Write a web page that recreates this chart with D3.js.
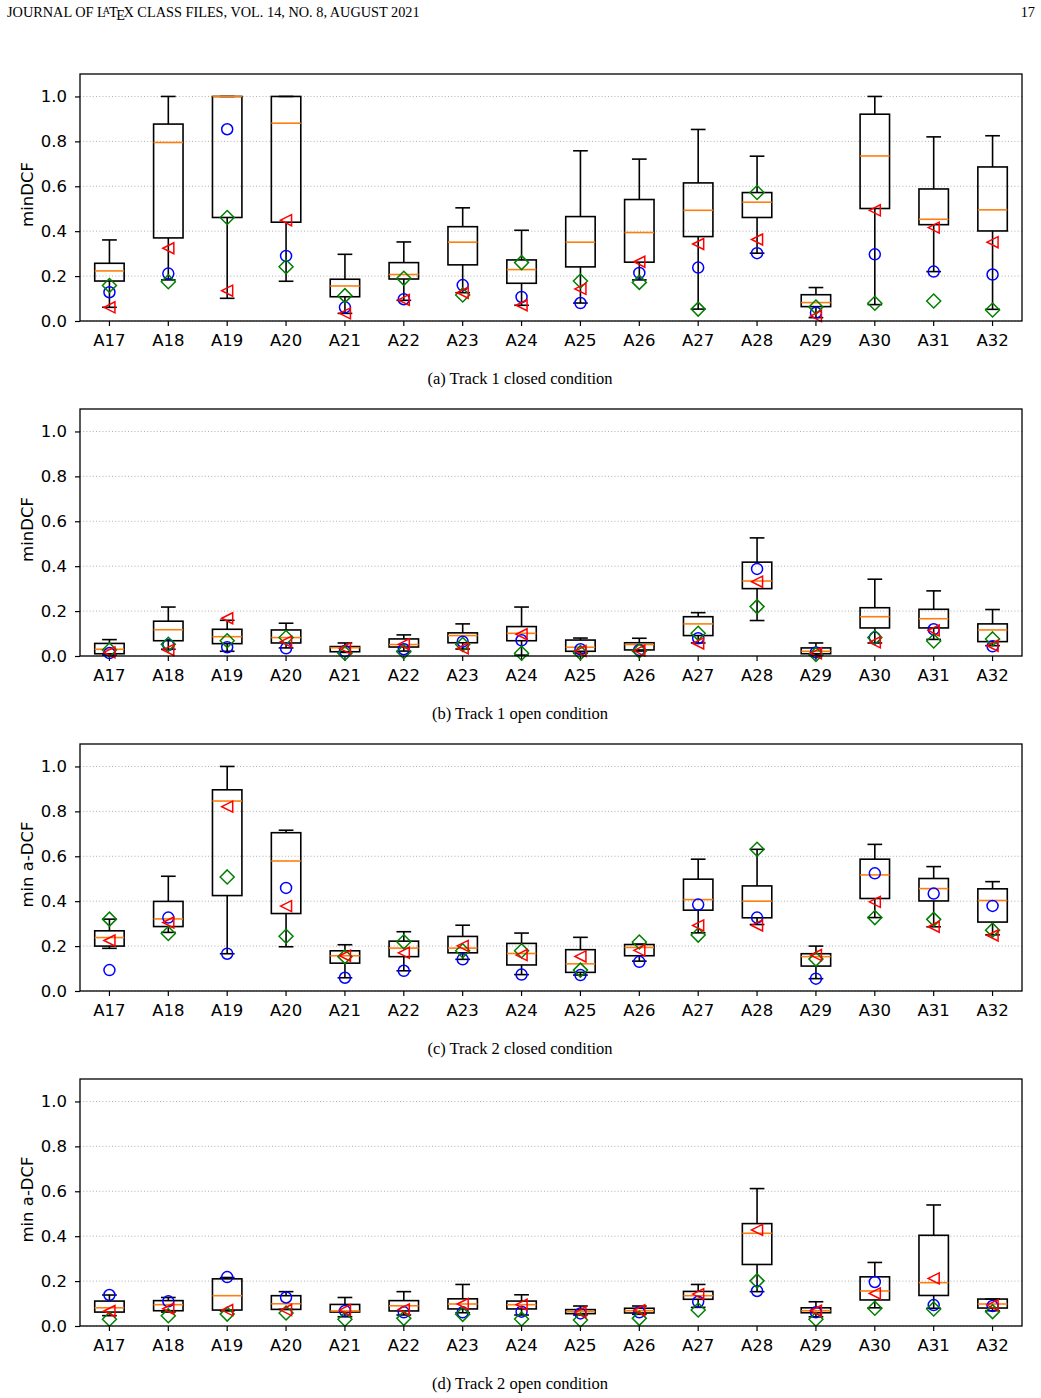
<!DOCTYPE html>
<html><head><meta charset="utf-8">
<script src="https://cdn.jsdelivr.net/npm/d3@7"></script>
<style>body{margin:0;background:#fff}svg{display:block}</style>
</head><body>
<svg id="chart" width="1041" height="1398"></svg>
<script>
const categories = ["A17","A18","A19","A20","A21","A22","A23","A24","A25","A26","A27","A28","A29","A30","A31","A32"];
const yTicks = [0.0,0.2,0.4,0.6,0.8,1.0];
const captions = ["(a) Track 1 closed condition","(b) Track 1 open condition","(c) Track 2 closed condition","(d) Track 2 open condition"];
const yLabels = ["minDCF","minDCF","min a-DCF","min a-DCF"];

// box stats per category: [whiskerLow, q1, median, q3, whiskerHigh]
const aBoxes = [[0.061,0.178,0.223,0.257,0.361],[0.183,0.370,0.795,0.877,1.0],[0.101,0.461,1.0,1.0,1.0],[0.177,0.440,0.881,1.0,1.0],
  [0.034,0.108,0.156,0.186,0.297],[0.092,0.187,0.207,0.260,0.352],[0.126,0.250,0.351,0.420,0.504],[0.070,0.168,0.229,0.272,0.404],
  [0.080,0.241,0.351,0.465,0.758],[0.183,0.262,0.394,0.541,0.721],[0.053,0.376,0.493,0.615,0.853],[0.302,0.461,0.529,0.572,0.734],
  [0.015,0.064,0.082,0.117,0.149],[0.073,0.501,0.735,0.921,1.0],[0.220,0.429,0.453,0.588,0.820],[0.052,0.401,0.495,0.686,0.825]];
const aCircle   = [0.128,0.211,0.854,0.290,0.061,0.097,0.160,0.107,0.080,0.214,0.238,0.302,0.037,0.297,0.220,0.207];
const aDiamond  = [0.158,0.175,0.461,0.242,0.113,0.190,0.116,0.260,0.178,0.172,0.053,0.572,0.062,0.079,0.089,0.049];
const aTriangle = [0.061,0.324,0.135,0.449,0.034,0.094,0.126,0.070,0.143,0.264,0.343,0.363,0.022,0.493,0.416,0.351];

const bBoxes = [[0.004,0.010,0.030,0.056,0.073],[0.030,0.068,0.117,0.155,0.218],[0.021,0.055,0.086,0.119,0.159],[0.036,0.058,0.082,0.116,0.146],
  [0.016,0.019,0.037,0.042,0.058],[0.022,0.040,0.051,0.076,0.094],[0.031,0.059,0.091,0.103,0.143],[0.004,0.068,0.101,0.131,0.218],
  [0.012,0.021,0.039,0.071,0.080],[0.022,0.027,0.051,0.059,0.079],[0.058,0.091,0.143,0.175,0.193],[0.158,0.300,0.334,0.418,0.526],
  [0.004,0.010,0.021,0.036,0.058],[0.058,0.125,0.175,0.215,0.342],[0.074,0.125,0.166,0.208,0.290],[0.046,0.064,0.116,0.143,0.207]];
const bCircle   = [0.013,0.049,0.039,0.034,0.022,0.030,0.064,0.070,0.030,0.027,0.079,0.388,0.016,0.082,0.119,0.043];
const bDiamond  = [0.027,0.052,0.068,0.082,0.012,0.019,0.051,0.012,0.015,0.022,0.101,0.220,0.007,0.082,0.067,0.076];
const bTriangle = [0.016,0.027,0.168,0.064,0.034,0.052,0.034,0.097,0.022,0.024,0.056,0.331,0.012,0.061,0.114,0.046];

const cBoxes = [[0.190,0.200,0.238,0.268,0.320],[0.261,0.287,0.321,0.399,0.511],[0.166,0.425,0.846,0.896,1.0],[0.197,0.345,0.579,0.705,0.716],
  [0.059,0.124,0.157,0.179,0.206],[0.090,0.153,0.191,0.222,0.264],[0.141,0.170,0.191,0.243,0.293],[0.073,0.116,0.167,0.212,0.258],
  [0.071,0.083,0.121,0.184,0.239],[0.133,0.157,0.194,0.207,0.209],[0.259,0.360,0.407,0.498,0.587],[0.296,0.326,0.400,0.468,0.631],
  [0.055,0.111,0.153,0.166,0.200],[0.327,0.412,0.517,0.587,0.653],[0.286,0.401,0.456,0.501,0.554],[0.250,0.307,0.403,0.455,0.487]];
const cCircle   = [0.093,0.327,0.166,0.459,0.059,0.090,0.141,0.073,0.071,0.130,0.385,0.327,0.055,0.524,0.434,0.379];
const cDiamond  = [0.320,0.256,0.508,0.244,0.153,0.219,0.179,0.179,0.093,0.218,0.249,0.631,0.142,0.327,0.319,0.271];
const cTriangle = [0.225,0.305,0.821,0.378,0.157,0.170,0.201,0.160,0.154,0.181,0.292,0.292,0.160,0.397,0.286,0.247];

const dBoxes = [[0.046,0.062,0.081,0.111,0.138],[0.062,0.068,0.095,0.113,0.127],[0.067,0.071,0.135,0.210,0.216],[0.074,0.074,0.099,0.135,0.153],
  [0.041,0.062,0.067,0.096,0.127],[0.049,0.067,0.090,0.113,0.153],[0.059,0.076,0.098,0.121,0.185],[0.049,0.076,0.095,0.111,0.139],
  [0.049,0.055,0.064,0.073,0.089],[0.052,0.058,0.068,0.079,0.089],[0.083,0.119,0.135,0.154,0.185],[0.153,0.274,0.413,0.456,0.612],
  [0.041,0.059,0.068,0.081,0.108],[0.081,0.116,0.156,0.219,0.283],[0.079,0.136,0.193,0.404,0.539],[0.068,0.080,0.098,0.120,0.120]];
const dCircle   = [0.138,0.110,0.218,0.127,0.067,0.061,0.061,0.064,0.056,0.061,0.108,0.156,0.061,0.196,0.093,0.089];
const dDiamond  = [0.030,0.046,0.053,0.058,0.030,0.034,0.052,0.031,0.027,0.034,0.071,0.201,0.030,0.079,0.076,0.064];
const dTriangle = [0.067,0.077,0.071,0.071,0.071,0.074,0.098,0.095,0.061,0.070,0.142,0.428,0.068,0.145,0.212,0.093];

const panels = [
  {boxes:aBoxes, circle:aCircle, diamond:aDiamond, triangle:aTriangle},
  {boxes:bBoxes, circle:bCircle, diamond:bDiamond, triangle:bTriangle},
  {boxes:cBoxes, circle:cCircle, diamond:cDiamond, triangle:cTriangle},
  {boxes:dBoxes, circle:dCircle, diamond:dDiamond, triangle:dTriangle}
];

const svg = d3.select("#chart");
const L = 80, R = 1022, H = 247, tops = [74, 409, 744, 1079];
const font = "'DejaVu Sans', sans-serif";
const serif = "'Liberation Serif', 'Times New Roman', serif";

// header
const hdr = svg.append("text").attr("x",7).attr("y",17).attr("font-family",serif).attr("font-size",14.3).attr("fill","#000");
hdr.append("tspan").text("JOURNAL OF L");
hdr.append("tspan").attr("font-size",10).attr("dx",-3).attr("dy",-3).text("A");
hdr.append("tspan").attr("dx",-1).attr("dy",3).text("T");
hdr.append("tspan").attr("dx",-1.5).attr("dy",3).text("E");
hdr.append("tspan").attr("dx",-1.5).attr("dy",-3).text("X CLASS FILES, VOL. 14, NO. 8, AUGUST 2021");
svg.append("text").attr("x",1035).attr("y",17).attr("text-anchor","end").attr("font-family",serif).attr("font-size",14.3).text("17");

const x = d3.scaleBand().domain(categories).range([L,R]).paddingInner(0).paddingOuter(0);
const bw = x.bandwidth();
const boxW = bw*0.5, capW = bw*0.25;

panels.forEach((p, i) => {
  const top = tops[i], bottom = top + H;
  const y = d3.scaleLinear().domain([0,1.1]).range([bottom, top]);
  const g = svg.append("g");

  // grid
  g.append("g").selectAll("line").data(yTicks).join("line")
    .attr("x1",L).attr("x2",R).attr("y1",d=>y(d)).attr("y2",d=>y(d))
    .attr("stroke","#b0b0b0").attr("stroke-width",1).attr("stroke-dasharray","1,2.2");

  // axes
  const yAxis = d3.axisLeft(y).tickValues(yTicks).tickFormat(d3.format(".1f")).tickSize(5).tickPadding(8);
  const ya = g.append("g").attr("transform",`translate(${L},0)`).call(yAxis);
  const xAxis = d3.axisBottom(x).tickSize(5).tickPadding(8);
  const xa = g.append("g").attr("transform",`translate(0,${bottom})`).call(xAxis);
  [ya, xa].forEach(a => {
    a.select(".domain").remove();
    a.selectAll("line").attr("stroke","#000").attr("stroke-width",1.2);
    a.selectAll("text").attr("font-family",font).attr("font-size",16.5).attr("fill","#000");
  });

  // boxes
  const bx = g.append("g").selectAll("g").data(p.boxes).join("g");
  const cx = (d,j) => x(categories[j]) + bw/2;
  bx.each(function(d, j) {
    const s = d3.select(this), c = x(categories[j]) + bw/2;
    const [lo,q1,med,q3,hi] = d;
    const st = sel => sel.attr("stroke","#000").attr("stroke-width",1.6).attr("fill","none");
    st(s.append("line").attr("x1",c).attr("x2",c).attr("y1",y(q3)).attr("y2",y(hi)));
    st(s.append("line").attr("x1",c).attr("x2",c).attr("y1",y(q1)).attr("y2",y(lo)));
    st(s.append("line").attr("x1",c-capW/2).attr("x2",c+capW/2).attr("y1",y(hi)).attr("y2",y(hi)));
    st(s.append("line").attr("x1",c-capW/2).attr("x2",c+capW/2).attr("y1",y(lo)).attr("y2",y(lo)));
    st(s.append("rect").attr("x",c-boxW/2).attr("width",boxW).attr("y",y(q3)).attr("height",Math.max(0,y(q1)-y(q3))));
    s.append("line").attr("x1",c-boxW/2).attr("x2",c+boxW/2).attr("y1",y(med)).attr("y2",y(med))
      .attr("stroke","#ff7f0e").attr("stroke-width",1.6);
  });

  // markers
  g.append("g").selectAll("circle").data(p.circle).join("circle")
    .attr("cx",(d,j)=>cx(d,j)).attr("cy",d=>y(d)).attr("r",5.5)
    .attr("fill","none").attr("stroke","#0000ff").attr("stroke-width",1.5);
  g.append("g").selectAll("path").data(p.diamond).join("path")
    .attr("d",(d,j)=>{const c=cx(d,j), v=y(d), r=7; return `M${c},${v-r}L${c+r},${v}L${c},${v+r}L${c-r},${v}Z`;})
    .attr("fill","none").attr("stroke","#008000").attr("stroke-width",1.5);
  g.append("g").selectAll("path").data(p.triangle).join("path")
    .attr("d",(d,j)=>{const c=cx(d,j), v=y(d), r=5.5; return `M${c-r},${v}L${c+r},${v-r}L${c+r},${v+r}Z`;})
    .attr("fill","none").attr("stroke","#ff0000").attr("stroke-width",1.5);

  // frame
  g.append("rect").attr("x",L).attr("y",top).attr("width",R-L).attr("height",H)
    .attr("fill","none").attr("stroke","#000").attr("stroke-width",1.3);

  // y label
  g.append("text").attr("transform",`translate(33,${top+H/2-3}) rotate(-90)`)
    .attr("text-anchor","middle").attr("font-family",font).attr("font-size",16.5).text(yLabels[i]);

  // caption
  svg.append("text").attr("x",520).attr("y",bottom+63).attr("text-anchor","middle")
    .attr("font-family",serif).attr("font-size",16.5).text(captions[i]);
});
</script>
</body></html>
